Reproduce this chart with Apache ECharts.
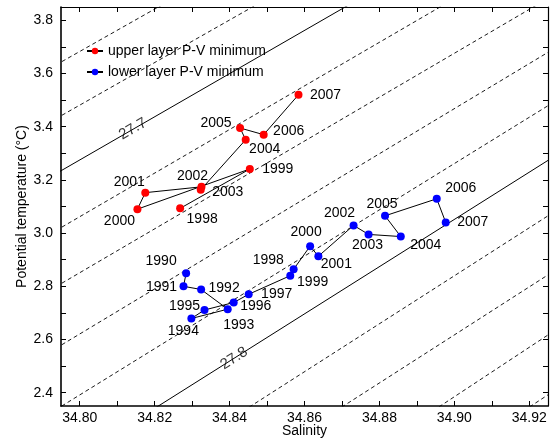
<!DOCTYPE html>
<html lang="en">
<head>
  <meta charset="UTF-8">
  <title>P-V minimum T-S</title>
  <script src="https://cdn.jsdelivr.net/npm/echarts@6/dist/echarts.min.js"></script>
  <style>
    body { margin: 0; background: #fff; }
    #chart { width: 560px; height: 441px; }
  </style>
</head>
<body>
<div id="chart"></div>
<script>
  // upper layer P-V minimum
  const upperYears = [1998, 1999, 2000, 2001, 2002, 2003, 2004, 2005, 2006, 2007];
  const upperSal = [34.8268, 34.8454, 34.8154, 34.8175, 34.8325, 34.8323, 34.8443, 34.8428, 34.8491, 34.8584];
  const upperTemp = [3.093, 3.241, 3.090, 3.152, 3.174, 3.163, 3.351, 3.395, 3.370, 3.520];

  // lower layer P-V minimum
  const lowerYears = [1990, 1991, 1992, 1993, 1994, 1995, 1996, 1997, 1998, 1999,
                      2000, 2001, 2002, 2003, 2004, 2005, 2006, 2007];
  const lowerSal = [34.8284, 34.8277, 34.8324, 34.8395, 34.8298, 34.8333, 34.8411, 34.8451, 34.8562, 34.8571,
                    34.8615, 34.8637, 34.8731, 34.8771, 34.8857, 34.8815, 34.8953, 34.8977];
  const lowerTemp = [2.849, 2.800, 2.788, 2.714, 2.679, 2.711, 2.739, 2.770, 2.840, 2.864,
                     2.951, 2.913, 3.029, 2.995, 2.987, 3.065, 3.129, 3.040];

  // isopycnals (sigma-theta), each read as two end points [S, T]
  const isoSigma = [27.66, 27.68, 27.70, 27.72, 27.74, 27.76, 27.78, 27.80, 27.82, 27.84, 27.86, 27.88];
  const isoStart = [[34.792, 3.619], [34.792, 3.417], [34.792, 3.210], [34.792, 2.996], [34.792, 2.785],
                    [34.792, 2.553], [34.792, 2.322], [34.8157, 2.303], [34.8405, 2.303], [34.8652, 2.303],
                    [34.8912, 2.303], [34.9154, 2.303]];
  const isoEnd = [[34.8245, 3.878], [34.8496, 3.878], [34.8743, 3.878], [34.8996, 3.878], [34.928, 3.907],
                  [34.928, 3.705], [34.928, 3.505], [34.928, 3.300], [34.928, 3.092], [34.928, 2.870],
                  [34.928, 2.645], [34.928, 2.420]];
  const solidSigma = [27.70, 27.80];
  const contourLabels = ['27.7', '27.8'];
  const contourLabelAt = [[34.8142, 3.3915], [34.8412, 2.529]];
  const contourLabelRotate = [30, 32];

  // tick labels
  const xMajorTicks = [34.80, 34.82, 34.84, 34.86, 34.88, 34.90, 34.92];
  const xMinorTicks = [34.80, 34.81, 34.82, 34.83, 34.84, 34.85, 34.86, 34.87, 34.88, 34.89, 34.90, 34.91, 34.92];
  const yMajorTicks = [2.4, 2.6, 2.8, 3.0, 3.2, 3.4, 3.6, 3.8];
  const yMinorTicks = [2.4, 2.5, 2.6, 2.7, 2.8, 2.9, 3.0, 3.1, 3.2, 3.3, 3.4, 3.5, 3.6, 3.7, 3.8];

  // where each year label sits relative to its dot (px)
  const upperLabelOffset = [[22, 11], [28, 0], [-18, 12], [-16, -11], [-9, -11], [27, 2], [19, 9], [-24, -5], [25, -4], [27, 0]];
  const lowerLabelOffset = [[-25, -12], [-22, 1], [23, -1], [11, 16], [-8, 13], [-20, -4], [22, 4], [28, 0], [-22, -16], [19, 13],
                            [-4, -14], [18, 8], [-14, -12], [-1, 11], [25, 9], [-3, -12], [24, -11], [27, 0]];

  const font = "'Liberation Sans', Arial, sans-serif";
  const chart = echarts.init(document.getElementById("chart"));

  function layerData(sal, temp, years, offsets) {
    return sal.map((s, i) => ({
      value: [s, temp[i]],
      label: { formatter: String(years[i]), offset: offsets[i] }
    }));
  }

  const isoSeries = isoSigma.map((sig, i) => ({
    name: "sigma " + sig,
    type: "line",
    silent: true,
    symbol: "none",
    z: 1,
    data: [isoStart[i], isoEnd[i]],
    lineStyle: {
      color: "#000",
      width: solidSigma.includes(sig) ? 1 : 0.9,
      type: solidSigma.includes(sig) ? "solid" : [4, 3]
    }
  }));

  const labelSeries = {
    type: "scatter",
    silent: true,
    symbolSize: 0,
    z: 2,
    itemStyle: { color: "#000" },
    data: contourLabelAt.map((p, i) => ({
      value: p,
      label: {
        show: true, position: "inside", formatter: contourLabels[i], rotate: contourLabelRotate[i],
        color: "#000", fontSize: 15, fontFamily: font, textBorderWidth: 0
      }
    }))
  };

  function pvSeries(name, color, sal, temp, years, offsets) {
    return {
      name: name,
      type: "line",
      z: 5,
      symbol: "circle",
      symbolSize: 8,
      data: layerData(sal, temp, years, offsets),
      itemStyle: { color: color },
      lineStyle: { color: "#000", width: 1 },
      label: {
        show: true, position: "inside", align: "center", verticalAlign: "middle",
        color: "#000", fontSize: 14, fontFamily: font, textBorderWidth: 0
      },
      emphasis: { disabled: true }
    };
  }

  const tickStyle = { inside: true, length: 5, lineStyle: { color: "#000", width: 1 } };

  chart.setOption({
    animation: false,
    backgroundColor: "#fff",
    textStyle: { fontFamily: font },
    grid: { left: 61, right: 12, top: 7, bottom: 35, outerBoundsMode: "none", containLabel: false },
    legend: {
      orient: "vertical",
      left: 81, top: 39,
      itemWidth: 16, itemHeight: 8, itemGap: 7,
      data: ["upper layer P-V minimum", "lower layer P-V minimum"],
      textStyle: { fontSize: 14, color: "#000", fontFamily: font }
    },
    xAxis: [{
      type: "value", min: 34.795, max: 34.925, position: "bottom",
      name: "Salinity", nameLocation: "middle", nameGap: 18, nameMoveOverlap: false,
      nameTextStyle: { fontSize: 14, color: "#000", fontFamily: font },
      axisLine: { onZero: false, lineStyle: { color: "#000", width: 1.6 } },
      axisTick: Object.assign({ customValues: xMinorTicks }, tickStyle),
      axisLabel: { customValues: xMajorTicks, formatter: v => v.toFixed(2), fontSize: 14, color: "#000", margin: 5, fontFamily: font },
      splitLine: { show: false }
    }, {
      type: "value", min: 34.795, max: 34.925, position: "top",
      axisLine: { onZero: false, lineStyle: { color: "#000", width: 1.2 } },
      axisTick: Object.assign({ customValues: xMinorTicks }, tickStyle),
      axisLabel: { show: false },
      splitLine: { show: false }
    }],
    yAxis: [{
      type: "value", min: 2.35, max: 3.85, position: "left",
      name: "Potential temperature (°C)", nameLocation: "middle", nameGap: 32, nameMoveOverlap: false,
      nameTextStyle: { fontSize: 14, color: "#000", fontFamily: font },
      axisLine: { show: true, onZero: false, lineStyle: { color: "#000", width: 1.6 } },
      axisTick: Object.assign({ customValues: yMinorTicks }, tickStyle),
      axisLabel: { customValues: yMajorTicks, formatter: v => v.toFixed(1), fontSize: 14, color: "#000", margin: 8, fontFamily: font },
      splitLine: { show: false }
    }, {
      type: "value", min: 2.35, max: 3.85, position: "right",
      axisLine: { show: true, onZero: false, lineStyle: { color: "#000", width: 1.2 } },
      axisTick: Object.assign({ customValues: yMinorTicks }, tickStyle),
      axisLabel: { show: false },
      splitLine: { show: false }
    }],
    series: isoSeries.concat([
      labelSeries,
      pvSeries("upper layer P-V minimum", "#ff0000", upperSal, upperTemp, upperYears, upperLabelOffset),
      pvSeries("lower layer P-V minimum", "#0000ff", lowerSal, lowerTemp, lowerYears, lowerLabelOffset)
    ])
  });
</script>
</body>
</html>
